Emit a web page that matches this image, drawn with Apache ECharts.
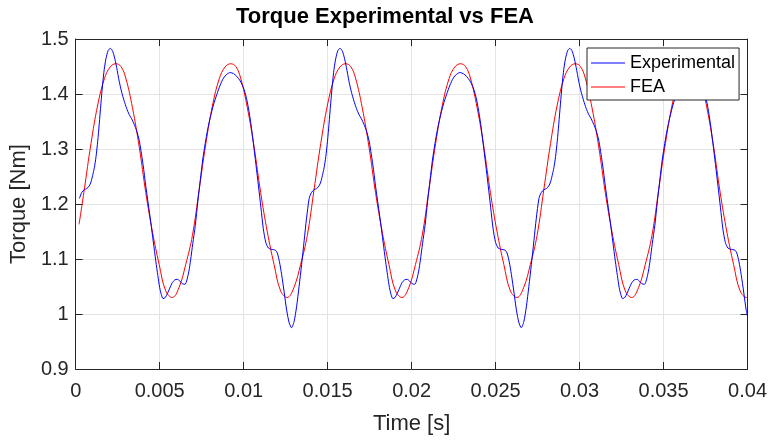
<!DOCTYPE html>
<html>
<head>
<meta charset="utf-8">
<title>Torque Experimental vs FEA</title>
<script src="https://cdn.jsdelivr.net/npm/echarts@6/dist/echarts.min.js"></script>
<style>
  html, body { margin: 0; padding: 0; background: #ffffff; }
  #chart { width: 770px; height: 440px; }
</style>
</head>
<body>
<div id="chart"></div>
<script>
// Measured torque, time in seconds
var expTime = [
  0.00022,0.00036,0.00051,0.00066,0.00081,0.00091,0.00101,0.00111,0.00121,0.00131,
  0.00140,0.00150,0.00160,0.00170,0.00180,0.00193,0.00206,0.00218,0.00229,0.00244,
  0.00259,0.00274,0.00289,0.00303,0.00318,0.00333,0.00348,0.00363,0.00378,0.00387,
  0.00397,0.00407,0.00417,0.00432,0.00447,0.00462,0.00477,0.00489,0.00500,0.00510,
  0.00520,0.00533,0.00546,0.00560,0.00575,0.00590,0.00605,0.00620,0.00635,0.00651,
  0.00662,0.00674,0.00684,0.00697,0.00712,0.00727,0.00742,0.00756,0.00771,0.00786,
  0.00801,0.00820,0.00840,0.00860,0.00880,0.00900,0.00920,0.00940,0.00959,0.00979,
  0.00999,0.01014,0.01028,0.01043,0.01058,0.01073,0.01088,0.01103,0.01117,0.01132,
  0.01147,0.01162,0.01177,0.01189,0.01200,0.01213,0.01226,0.01241,0.01256,0.01271,
  0.01285,0.01300,0.01315,0.01330,0.01345,0.01360,0.01374,
  0.01390,0.01404,0.01419,0.01434,0.01449,0.01459,0.01469,0.01479,0.01489,0.01499,
  0.01508,0.01518,0.01528,0.01538,0.01548,0.01561,0.01574,0.01586,0.01597,0.01612,
  0.01627,0.01642,0.01657,0.01671,0.01686,0.01701,0.01716,0.01731,0.01746,0.01755,
  0.01765,0.01775,0.01785,0.01800,0.01815,0.01830,0.01845,0.01857,0.01868,0.01878,
  0.01888,0.01901,0.01914,0.01928,0.01943,0.01958,0.01973,0.01988,0.02003,0.02019,
  0.02030,0.02042,0.02052,0.02065,0.02080,0.02095,0.02110,0.02124,0.02139,0.02154,
  0.02169,0.02188,0.02208,0.02228,0.02248,0.02268,0.02288,0.02308,0.02327,0.02347,
  0.02367,0.02382,0.02396,0.02411,0.02426,0.02441,0.02456,0.02471,0.02485,0.02500,
  0.02515,0.02530,0.02545,0.02557,0.02568,0.02581,0.02594,0.02609,0.02624,0.02639,
  0.02653,0.02668,0.02683,0.02698,0.02713,0.02728,0.02742,
  0.02758,0.02772,0.02787,0.02802,0.02817,0.02827,0.02837,0.02847,0.02857,0.02867,
  0.02876,0.02886,0.02896,0.02906,0.02916,0.02929,0.02942,0.02954,0.02965,0.02980,
  0.02995,0.03010,0.03025,0.03039,0.03054,0.03069,0.03084,0.03099,0.03114,0.03123,
  0.03133,0.03143,0.03153,0.03168,0.03183,0.03198,0.03213,0.03225,0.03236,0.03246,
  0.03256,0.03269,0.03282,0.03296,0.03311,0.03326,0.03341,0.03356,0.03371,0.03387,
  0.03398,0.03410,0.03420,0.03433,0.03448,0.03463,0.03478,0.03492,0.03507,0.03522,
  0.03537,0.03556,0.03576,0.03596,0.03616,0.03636,0.03656,0.03676,0.03695,0.03715,
  0.03735,0.03750,0.03764,0.03779,0.03794,0.03809,0.03824,0.03839,0.03853,0.03868,
  0.03883,0.03898,0.03913,0.03925,0.03936,0.03949,0.03962,0.03977,0.03992,0.04000
];

// Measured torque, Nm
var expTorque = [
  1.210,1.221,1.226,1.228,1.233,1.240,1.252,1.266,1.286,1.314,
  1.345,1.382,1.417,1.445,1.464,1.479,1.483,1.479,1.469,1.448,
  1.423,1.403,1.387,1.374,1.363,1.355,1.345,1.333,1.316,1.300,
  1.280,1.258,1.233,1.200,1.167,1.131,1.096,1.070,1.048,1.035,
  1.028,1.030,1.037,1.047,1.057,1.062,1.063,1.060,1.055,1.054,
  1.062,1.078,1.098,1.128,1.161,1.204,1.244,1.280,1.310,1.336,
  1.357,1.380,1.399,1.416,1.429,1.436,1.439,1.437,1.432,1.424,
  1.411,1.396,1.375,1.346,1.310,1.272,1.233,1.193,1.155,1.130,
  1.120,1.118,1.117,1.116,1.111,1.095,1.072,1.040,1.007,0.984,
  0.975,0.986,1.013,1.050,1.090,1.133,1.173,
  1.210,1.221,1.226,1.228,1.233,1.240,1.252,1.266,1.286,1.314,
  1.345,1.382,1.417,1.445,1.464,1.479,1.483,1.479,1.469,1.448,
  1.423,1.403,1.387,1.374,1.363,1.355,1.345,1.333,1.316,1.300,
  1.280,1.258,1.233,1.200,1.167,1.131,1.096,1.070,1.048,1.035,
  1.028,1.030,1.037,1.047,1.057,1.062,1.063,1.060,1.055,1.054,
  1.062,1.078,1.098,1.128,1.161,1.204,1.244,1.280,1.310,1.336,
  1.357,1.380,1.399,1.416,1.429,1.436,1.439,1.437,1.432,1.424,
  1.411,1.396,1.375,1.346,1.310,1.272,1.233,1.193,1.155,1.130,
  1.120,1.118,1.117,1.116,1.111,1.095,1.072,1.040,1.007,0.984,
  0.975,0.986,1.013,1.050,1.090,1.133,1.173,
  1.210,1.221,1.226,1.228,1.233,1.240,1.252,1.266,1.286,1.314,
  1.345,1.382,1.417,1.445,1.464,1.479,1.483,1.479,1.469,1.448,
  1.423,1.403,1.387,1.374,1.363,1.355,1.345,1.333,1.316,1.300,
  1.280,1.258,1.233,1.200,1.167,1.131,1.096,1.070,1.048,1.035,
  1.028,1.030,1.037,1.047,1.057,1.062,1.063,1.060,1.055,1.054,
  1.062,1.078,1.098,1.128,1.161,1.204,1.244,1.280,1.310,1.336,
  1.357,1.380,1.399,1.416,1.429,1.436,1.439,1.437,1.432,1.424,
  1.411,1.396,1.375,1.346,1.310,1.272,1.233,1.193,1.155,1.130,
  1.120,1.118,1.117,1.116,1.111,1.095,1.072,1.040,1.007,0.996
];

// FEA torque, time in seconds
var feaTime = [
  0.00020,0.00051,0.00091,0.00131,0.00171,0.00205,0.00239,0.00269,0.00298,0.00338,
  0.00378,0.00417,0.00457,0.00497,0.00536,0.00575,
  0.00615,0.00655,0.00695,0.00735,0.00775,0.00815,0.00855,0.00889,0.00923,0.00953,
  0.00982,0.01022,0.01062,0.01101,0.01141,0.01181,0.01220,0.01259,
  0.01299,0.01339,0.01379,0.01419,0.01459,0.01499,0.01539,0.01573,0.01607,0.01637,
  0.01666,0.01706,0.01746,0.01785,0.01825,0.01865,0.01904,0.01943,
  0.01983,0.02023,0.02063,0.02103,0.02143,0.02183,0.02223,0.02257,0.02291,0.02321,
  0.02350,0.02390,0.02430,0.02469,0.02509,0.02549,0.02588,0.02627,
  0.02667,0.02707,0.02747,0.02787,0.02827,0.02867,0.02907,0.02941,0.02975,0.03005,
  0.03034,0.03074,0.03114,0.03153,0.03193,0.03233,0.03272,0.03311,
  0.03351,0.03391,0.03431,0.03471,0.03511,0.03551,0.03591,0.03625,0.03659,0.03689,
  0.03718,0.03758,0.03798,0.03837,0.03877,0.03917,0.03956,0.03995,0.04000
];

// FEA torque, Nm
var feaTorque = [
  1.163,1.226,1.310,1.380,1.428,1.449,1.455,1.450,1.429,1.375,
  1.304,1.221,1.149,1.090,1.042,1.030,
  1.048,1.090,1.143,1.226,1.310,1.380,1.428,1.449,1.455,1.450,
  1.429,1.375,1.304,1.221,1.149,1.090,1.042,1.030,
  1.048,1.090,1.143,1.226,1.310,1.380,1.428,1.449,1.455,1.450,
  1.429,1.375,1.304,1.221,1.149,1.090,1.042,1.030,
  1.048,1.090,1.143,1.226,1.310,1.380,1.428,1.449,1.455,1.450,
  1.429,1.375,1.304,1.221,1.149,1.090,1.042,1.030,
  1.048,1.090,1.143,1.226,1.310,1.380,1.428,1.449,1.455,1.450,
  1.429,1.375,1.304,1.221,1.149,1.090,1.042,1.030,
  1.048,1.090,1.143,1.226,1.310,1.380,1.428,1.449,1.455,1.450,
  1.429,1.375,1.304,1.221,1.149,1.090,1.042,1.030,1.030
];

var seriesNames = ['Experimental', 'FEA'];
var seriesColors = ['#0000ff', '#ff0000'];

function pairs(xs, ys) {
  var out = [];
  for (var i = 0; i < xs.length; i++) out.push([xs[i], ys[i]]);
  return out;
}

var FONT = '"Liberation Sans", Arial, Helvetica, sans-serif';
var AXIS_COLOR = '#262626';
var GRID_COLOR = '#e3e3e3';

function fmtTick(v) { return String(parseFloat(v.toFixed(4))); }

var chart = echarts.init(document.getElementById('chart'), null, { renderer: 'canvas' });

var frameAxis = {
  axisLine: { show: true, onZero: false, lineStyle: { color: AXIS_COLOR, width: 1 } },
  axisTick: { show: true, inside: true, length: 7, lineStyle: { color: AXIS_COLOR, width: 1 } }
};

chart.setOption({
  animation: false,
  backgroundColor: '#ffffff',
  textStyle: { fontFamily: FONT },
  title: {
    text: 'Torque Experimental vs FEA',
    left: 'center',
    top: 1,
    padding: [5, 5, 5, 59],
    textStyle: { fontFamily: FONT, fontSize: 22, fontWeight: 'bold', color: '#000000' }
  },
  legend: {
    data: seriesNames.map(function (n) { return { name: n, icon: 'rect' }; }),
    orient: 'vertical',
    left: 587,
    top: 48,
    padding: [6, 4, 4, 4],
    itemGap: 6,
    itemWidth: 34,
    itemHeight: 1,
    backgroundColor: '#ffffff',
    borderColor: AXIS_COLOR,
    borderWidth: 1,
    borderRadius: 0,
    textStyle: { fontFamily: FONT, fontSize: 18, color: '#000000' }
  },
  grid: { left: 75, right: 21, top: 39, bottom: 64, containLabel: false },
  xAxis: [
    Object.assign({
      type: 'value', position: 'bottom', min: 0, max: 0.04, interval: 0.005,
      name: 'Time [s]', nameLocation: 'middle', nameGap: 44,
      nameTextStyle: { fontFamily: FONT, fontSize: 22, color: AXIS_COLOR },
      axisLabel: { fontFamily: FONT, fontSize: 20, color: AXIS_COLOR, margin: 12, formatter: fmtTick },
      splitLine: { show: true, lineStyle: { color: GRID_COLOR, width: 1 } }
    }, frameAxis),
    Object.assign({
      type: 'value', position: 'top', min: 0, max: 0.04, interval: 0.005,
      axisLabel: { show: false }, splitLine: { show: false }
    }, frameAxis)
  ],
  yAxis: [
    Object.assign({
      type: 'value', position: 'left', min: 0.9, max: 1.5, interval: 0.1,
      name: 'Torque [Nm]', nameLocation: 'middle', nameGap: 41,
      nameTextStyle: { fontFamily: FONT, fontSize: 22, color: AXIS_COLOR },
      axisLabel: { fontFamily: FONT, fontSize: 20, color: AXIS_COLOR, margin: 7, formatter: fmtTick },
      splitLine: { show: true, lineStyle: { color: GRID_COLOR, width: 1 } }
    }, frameAxis),
    Object.assign({
      type: 'value', position: 'right', min: 0.9, max: 1.5, interval: 0.1,
      axisLabel: { show: false }, splitLine: { show: false }
    }, frameAxis)
  ],
  series: [
    {
      name: seriesNames[0], type: 'line', xAxisIndex: 0, yAxisIndex: 0,
      data: pairs(expTime, expTorque),
      symbol: 'none', smooth: 0.25,
      lineStyle: { color: seriesColors[0], width: 1 },
      itemStyle: { color: seriesColors[0] },
      clip: true, z: 3
    },
    {
      name: seriesNames[1], type: 'line', xAxisIndex: 0, yAxisIndex: 0,
      data: pairs(feaTime, feaTorque),
      symbol: 'none', smooth: 0.4,
      lineStyle: { color: seriesColors[1], width: 1 },
      itemStyle: { color: seriesColors[1] },
      clip: true, z: 2
    }
  ]
});
</script>
</body>
</html>
